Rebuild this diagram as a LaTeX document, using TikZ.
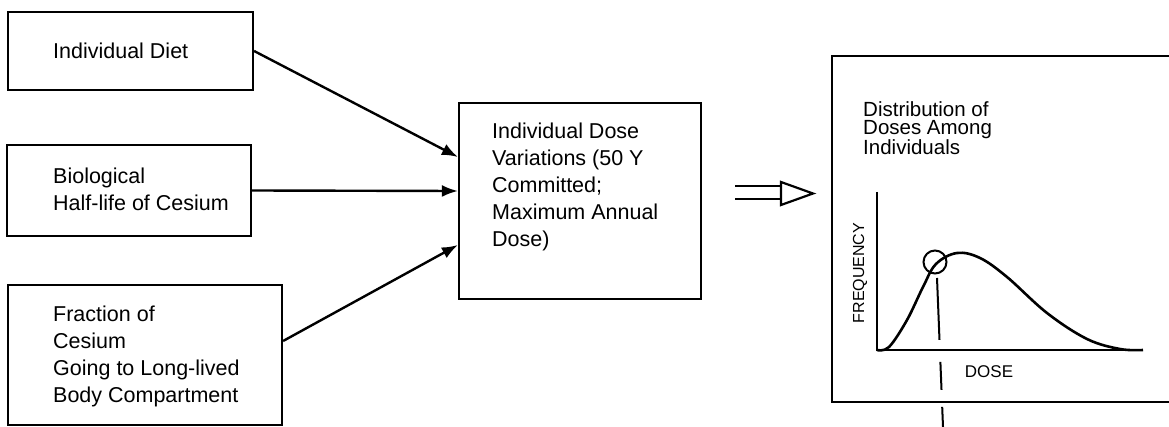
\documentclass[tikz,border=0pt]{standalone}
\usepackage{fontspec}
\setmainfont{Liberation Sans}
\usetikzlibrary{arrows.meta, positioning}

\tikzset{
	box/.style={shape=rectangle, draw, line width=2.2pt, inner sep=0pt},
	boxtext/.style={anchor=west, align=left, inner sep=0pt, font=\fontsize{21.5}{27}\selectfont},
	plottext/.style={anchor=west, align=left, inner sep=0pt, font=\fontsize{20.5}{18.5}\selectfont},
	feed/.style={line width=2.4pt, -{Latex[length=16pt, width=12pt]}},
}

\begin{document}
\begin{tikzpicture}[x=1pt, y=-1pt]
	\useasboundingbox (0,0) rectangle (1169,427);
	\clip (0,0) rectangle (1169,427);
	% Input boxes:
	\node[box, minimum width=245pt, minimum height=78pt] (diet) at (130.5, 51){} node[boxtext] (diet-txt) at (53, 51){Individual Diet};
	\node[box, minimum width=244pt, minimum height=91pt] (halflife) at (129, 190.5){} node[boxtext] (halflife-txt) at (53, 189){Biological\\Half-life of Cesium};
	\node[box, minimum width=274pt, minimum height=140pt] (frac) at (145, 355){} node[boxtext] (frac-txt) at (53, 356){Fraction of\\Cesium\\Going to Long-lived\\Body Compartment};
	% Dose box:
	\node[box, minimum width=242pt, minimum height=196pt] (dose) at (580, 201){} node[boxtext] (dose-txt) at (492, 187){Individual Dose\\Variations (50 Y\\Committed;\\Maximum Annual\\Dose)};
	% Arrows into dose box:
	\draw[feed] (diet.east) -- ([yshift=44pt]dose.west);
	\draw[feed] (halflife.east) -- ([yshift=10pt]dose.west);
	\draw[feed] ([yshift=14pt]frac.east) -- ([yshift=-44pt]dose.west);
	% Open double arrow:
	\coordinate (dbl-top) at (735, 186);
	\coordinate (dbl-bot) at (735, 199);
	\coordinate (head-top) at (781, 182);
	\coordinate (head-bot) at (781, 205);
	\coordinate (head-tip) at (813, 193.5);
	\draw[line width=2.2pt] (dbl-top) -- (781, 186);
	\draw[line width=2.2pt] (dbl-bot) -- (781, 199);
	\draw[line width=2.2pt, line join=miter] (head-top) -- (head-tip) -- (head-bot) -- cycle;
	% Distribution box:
	\node[box, minimum width=358pt, minimum height=346pt] (dist) at (1011, 229){} node[plottext] (dist-txt) at (863, 128){Distribution of\\Doses Among\\Individuals};
	% Axes and curve:
	\coordinate (ytop) at (877, 192);
	\coordinate (orig) at (877, 350);
	\coordinate (xend) at (1143, 350);
	\draw[line width=2.4pt] (ytop) -- (orig) -- (xend);
	\draw[line width=2.6pt] plot[smooth, tension=0.6] coordinates {(877,350) (889,347) (907,320) (923,287) (936,264) (957,253) (980,258) (1007,277) (1047,313) (1087,339) (1120,349) (1143,350)};
	\node[inner sep=0pt, rotate=90, font=\fontsize{16}{16}\selectfont] (freq-lbl) at (860, 273){FREQUENCY};
	\node[inner sep=0pt, font=\fontsize{17}{17}\selectfont] (dose-lbl) at (989, 372){DOSE};
	% Marked point and drop line:
	\node[circle, draw, line width=2pt, minimum size=23pt, inner sep=0pt] (peak) at (935, 262){};
	\coordinate (drop-top) at (937, 278);
	\coordinate (drop-end) at (943, 427);
	\draw[line width=2pt, dash pattern=on 62pt off 22pt on 28pt off 17pt on 40pt] (drop-top) -- (drop-end);
\end{tikzpicture}
\end{document}
